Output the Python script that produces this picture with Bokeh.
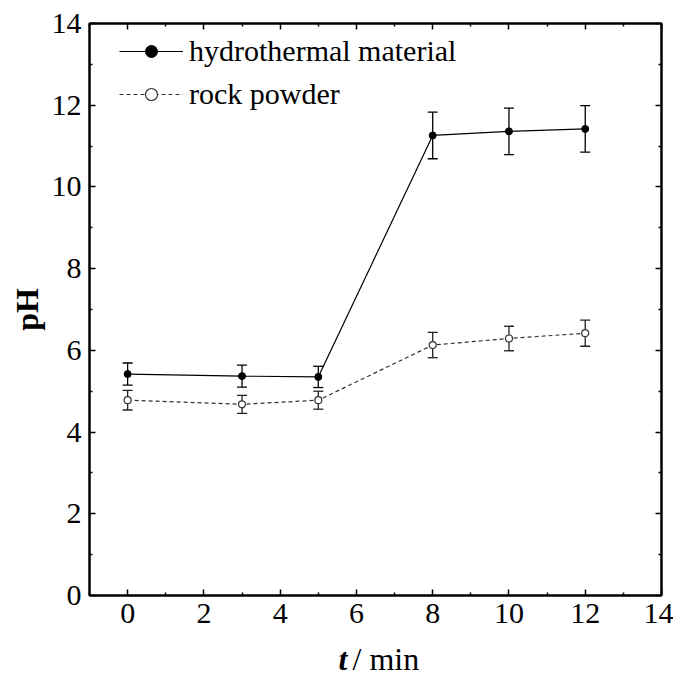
from bokeh.plotting import figure
from bokeh.layouts import column
from bokeh.models import (FixedTicker, LinearAxis, Whisker, TeeHead, ColumnDataSource,
                          Legend, LegendItem, Label, Range1d, CustomLabelingPolicy)
from bokeh.embed import file_html
from bokeh.resources import INLINE

# ---- data ----
time_min = [0, 3, 5, 8, 10, 12]
ph_hydro = [5.42, 5.37, 5.35, 11.26, 11.36, 11.42]
err_hydro = [0.27, 0.27, 0.26, 0.57, 0.57, 0.57]
ph_rock = [4.78, 4.68, 4.78, 6.13, 6.29, 6.42]
err_rock = [0.24, 0.22, 0.22, 0.31, 0.30, 0.32]
x_ticks = [0, 2, 4, 6, 8, 10, 12, 14]
x_minor = [-1, 1, 3, 5, 7, 9, 11, 13]
y_ticks = [0, 2, 4, 6, 8, 10, 12, 14]
y_minor = [1, 3, 5, 7, 9, 11, 13]
series_names = ["hydrothermal material", "rock powder"]
x_title_var = "t"
x_title_unit = "/ min"
y_title = "pH"

FONT = "Liberation Serif"
W = 673

p = figure(width=W, height=639, output_backend="svg", toolbar_location=None,
           x_range=Range1d(-1, 14), y_range=Range1d(0, 14),
           min_border_left=89, min_border_right=12, min_border_top=23, min_border_bottom=44)
p.background_fill_color = "white"
p.border_fill_color = "white"
p.xgrid.visible = False
p.ygrid.visible = False
p.outline_line_color = "black"
p.outline_line_width = 2

no_labels = CustomLabelingPolicy(code="""
for (const i of indices) { indices.unset(i) }
return indices
""")

def style_axis(ax, ticks, minor, labels=True):
    ax.ticker = FixedTicker(ticks=ticks, minor_ticks=minor)
    ax.axis_line_color = "black"
    ax.axis_line_width = 2
    ax.major_tick_in = 6
    ax.major_tick_out = 0
    ax.minor_tick_in = 3
    ax.minor_tick_out = 0
    ax.major_tick_line_width = 1.5
    ax.minor_tick_line_width = 1.5
    ax.major_tick_line_color = "black"
    ax.minor_tick_line_color = "black"
    ax.major_label_text_font = FONT
    ax.major_label_text_color = "black"
    if labels:
        ax.major_label_text_font_size = "30px"
    else:
        ax.major_label_text_font_size = "1px"
        ax.major_label_policy = no_labels
        ax.major_label_standoff = 0

style_axis(p.xaxis[0], x_ticks, x_minor)
style_axis(p.yaxis[0], y_ticks, y_minor)
p.xaxis[0].major_label_standoff = 8
p.yaxis[0].major_label_standoff = 8
p.yaxis[0].axis_label = y_title
p.yaxis[0].axis_label_text_font = FONT
p.yaxis[0].axis_label_text_font_size = "32px"
p.yaxis[0].axis_label_text_font_style = "bold"
p.yaxis[0].axis_label_text_color = "black"
p.yaxis[0].axis_label_standoff = 4

top_ax = LinearAxis()
style_axis(top_ax, x_ticks, x_minor, labels=False)
p.add_layout(top_ax, "above")
right_ax = LinearAxis()
style_axis(right_ax, y_ticks, y_minor, labels=False)
p.add_layout(right_ax, "right")

# ---- data sources ----
src_h = ColumnDataSource(dict(t=time_min, ph=ph_hydro,
                              lo=[v - e for v, e in zip(ph_hydro, err_hydro)],
                              hi=[v + e for v, e in zip(ph_hydro, err_hydro)]))
src_r = ColumnDataSource(dict(t=time_min, ph=ph_rock,
                              lo=[v - e for v, e in zip(ph_rock, err_rock)],
                              hi=[v + e for v, e in zip(ph_rock, err_rock)]))

for src, col in ((src_h, "black"), (src_r, "#222222")):
    w = Whisker(base="t", lower="lo", upper="hi", source=src,
                line_color=col, line_width=1.3,
                upper_head=TeeHead(size=10, line_color=col, line_width=1.3),
                lower_head=TeeHead(size=10, line_color=col, line_width=1.3))
    p.add_layout(w)

lh = p.line("t", "ph", source=src_h, line_color="black", line_width=1.2)
sh = p.scatter("t", "ph", source=src_h, marker="circle", size=7,
               fill_color="black", line_color="black")
lr = p.line("t", "ph", source=src_r, line_color="#333333", line_width=1.2,
            line_dash="4 3")
sr = p.scatter("t", "ph", source=src_r, marker="circle", size=7,
               fill_color="white", line_color="#333333", line_width=1.2)

legend = Legend(items=[LegendItem(label=series_names[0], renderers=[lh, sh]),
                       LegendItem(label=series_names[1], renderers=[lr, sr])],
                location=(30, 484), margin=0, padding=0,
                glyph_width=64, glyph_height=30, label_height=30,
                label_standoff=6, spacing=9,
                label_text_font=FONT, label_text_font_size="30px",
                label_text_color="black",
                border_line_color=None, background_fill_alpha=0)
p.add_layout(legend, "center")

# ---- x-axis title strip: bold-italic "t" followed by regular "/ min" ----
# (its frame is aligned with the main plot's frame, so x is measured from the frame's left edge)
q = figure(width=W, height=38, output_backend="svg", toolbar_location=None,
           x_range=Range1d(0, 1), y_range=Range1d(0, 1),
           min_border=0, min_border_left=0, min_border_right=0,
           min_border_top=0, min_border_bottom=0)
q.axis.visible = False
q.grid.visible = False
q.outline_line_color = None
q.background_fill_color = "white"
q.border_fill_color = "white"
q.add_layout(Label(x=258, y=19, x_units="screen", y_units="screen", text=x_title_var,
                   text_font=FONT, text_font_size="32px", text_font_style="bold italic",
                   text_align="right", text_baseline="middle", text_color="black"))
q.add_layout(Label(x=263, y=19, x_units="screen", y_units="screen", text=x_title_unit,
                   text_font=FONT, text_font_size="32px",
                   text_align="left", text_baseline="middle", text_color="black"))

layout = column(p, q, spacing=0)
open("out.html", "w").write(file_html(layout, INLINE))
